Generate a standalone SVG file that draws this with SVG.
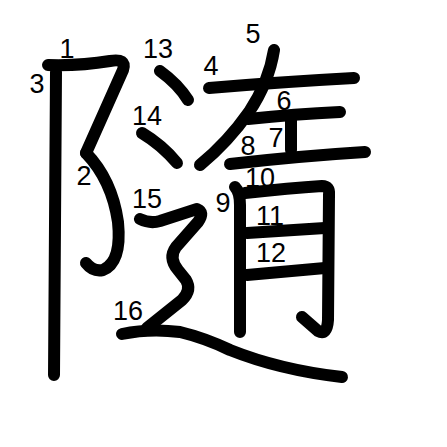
<svg xmlns="http://www.w3.org/2000/svg" width="447" height="447" viewBox="0 0 447 447">
<style>
.s{fill:none;stroke:#000;stroke-width:12;stroke-linecap:round;stroke-linejoin:round}
.n{font-family:"Liberation Sans",Arial,sans-serif;font-size:27px;fill:#000;text-anchor:middle}
</style>
<rect width="447" height="447" fill="#fff"/>
<g id="strokes">
<path id="s1" class="s" d="M48,65 Q80,66 110,61 Q127,58 123,70 L86,153"/>
<path id="s2" class="s" d="M86,153 Q112,180 118,222 Q122,262 103,270 Q93,272 86,263"/>
<path id="s3" class="s" d="M56,72 L54,375"/>
<path id="s4" class="s" d="M209,88 Q280,82 354,78"/>
<path id="s5" class="s" d="M274,50 Q269,82 249,112 Q228,142 200,165"/>
<path id="s6" class="s" d="M248,119 Q295,114 340,112"/>
<path id="s7" class="s" d="M291,120 L291,150"/>
<path id="s8" class="s" d="M230,164 Q300,156 365,152"/>
<path id="s9" class="s" d="M235,187 Q240,192 240,205 L240,332"/>
<path id="s10" class="s" d="M245,193 Q290,188 322,186 Q330,186 329,195 L328,320 Q327,336 318,331 L302,317"/>
<path id="s11" class="s" d="M247,233 L325,228"/>
<path id="s12" class="s" d="M247,275 L325,268"/>
<path id="s13" class="s" d="M160,71 Q178,84 188,100"/>
<path id="s14" class="s" d="M142,133 Q162,145 177,163"/>
<path id="s15" class="s" d="M140,219 Q150,224 160,221 L197,209 Q205,212 198,222 L176,247 Q168,258 178,270 L186,280 Q192,290 182,300 L147,328"/>
<path id="s16" class="s" d="M122,334 Q150,328 180,332 Q205,338 230,350 Q280,370 342,377"/>
</g>
<g id="labels">
<text class="n" x="67" y="58">1</text>
<text class="n" x="84" y="185">2</text>
<text class="n" x="37" y="93">3</text>
<text class="n" x="211" y="75">4</text>
<text class="n" x="253" y="43">5</text>
<text class="n" x="284" y="110">6</text>
<text class="n" x="276" y="147">7</text>
<text class="n" x="248" y="155">8</text>
<text class="n" x="223" y="212">9</text>
<text class="n" x="260" y="187">10</text>
<text class="n" x="270" y="225">11</text>
<text class="n" x="271" y="262">12</text>
<text class="n" x="158" y="58">13</text>
<text class="n" x="147" y="125">14</text>
<text class="n" x="147" y="208">15</text>
<text class="n" x="128" y="320">16</text>
</g>
</svg>
